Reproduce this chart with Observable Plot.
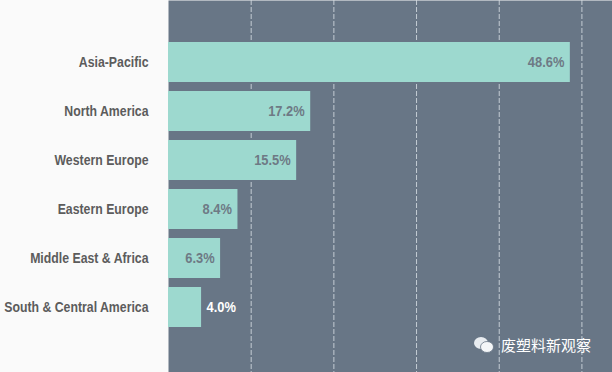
<!DOCTYPE html>
<html>
<head>
<meta charset="utf-8">
<script src="https://cdn.jsdelivr.net/npm/d3@7"></script>
<script src="https://cdn.jsdelivr.net/npm/@observablehq/plot@0.6"></script>
<style>
  html, body { margin: 0; padding: 0; background: #fafafa; }
  #wrap { position: relative; width: 612px; height: 372px; overflow: hidden; }
  #wm { position: absolute; left: 474px; top: 334px; display: flex; align-items: center; gap: 7px;
        color: #ffffff; font-family: "Noto Sans CJK SC", sans-serif; font-size: 15px; }
</style>
</head>
<body>
<div id="wrap">
  <div id="chart"></div>
  <div id="wm">
    <svg width="20" height="18" viewBox="0 0 20 18">
      <ellipse cx="7" cy="7" rx="7" ry="6" fill="#e8ecf0"/>
      <ellipse cx="13" cy="11" rx="6.5" ry="5.5" fill="#f4f6f8" stroke="#687686" stroke-width="0.8"/>
    </svg>
    <span>废塑料新观察</span>
  </div>
</div>
<script>
const categories = ["Asia-Pacific", "North America", "Western Europe", "Eastern Europe", "Middle East & Africa", "South & Central America"];
const values = [48.6, 17.2, 15.5, 8.4, 6.3, 4.0];
const gridTicks = [10, 20, 30, 40, 50];

const data = categories.map((c, i) => ({category: c, value: values[i], label: values[i].toFixed(1) + "%"}));
const font = "'Liberation Sans', Arial, sans-serif";

const chart = Plot.plot({
  width: 612,
  height: 372,
  marginLeft: 168,
  marginRight: 0,
  marginTop: 0,
  marginBottom: 0,
  style: {background: "transparent", fontFamily: font},
  x: {domain: [0, 53.7], axis: null},
  y: {domain: categories, range: [16.25, 353.25], padding: 0.19, paddingOuter: 0.5, label: null},
  marks: [
    Plot.frame({fill: "#687686", stroke: null}),
    Plot.ruleX(gridTicks, {stroke: "#d4dae0", strokeOpacity: 0.85, strokeWidth: 1, strokeDasharray: "5,2"}),
    Plot.barX(data, {x: "value", y: "category", fill: "#9dd9cf"}),
    Plot.text(data.filter(d => d.value >= 5), {x: "value", y: "category", text: "label", textAnchor: "end", dx: -6,
      fill: "#6e7a85", fontSize: 15, fontWeight: "bold"}),
    Plot.text(data.filter(d => d.value < 5), {x: "value", y: "category", text: "label", textAnchor: "start", dx: 5,
      fill: "#ffffff", fontSize: 15, fontWeight: "bold"}),
    Plot.axisY({tickSize: 0, tickPadding: 20, fontSize: 15, fontWeight: "bold", color: "#5c5c5c", label: null})
  ]
});
// narrow the glyphs horizontally, keeping each text's anchor point fixed
d3.select(chart).selectAll("text").each(function() {
  const t = this.getAttribute("transform") || "";
  const inAxis = this.closest("g[aria-label='y-axis tick label']") !== null;
  this.setAttribute("transform", t + (inAxis ? " scale(0.82,1)" : " scale(0.86,1)"));
});
document.getElementById("chart").appendChild(chart);
</script>
</body>
</html>
